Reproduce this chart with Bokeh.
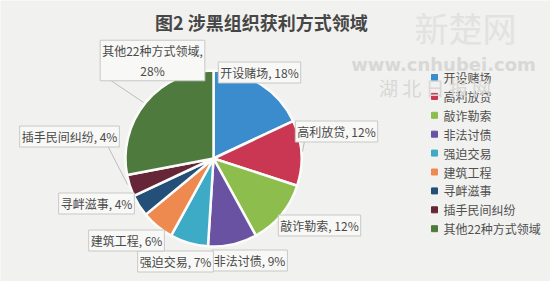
import numpy as np
from bokeh.plotting import figure
from bokeh.models import ColumnDataSource
from bokeh.core.properties import value
from bokeh.embed import file_html
from bokeh.resources import INLINE

# ---- data ----
categories = ["开设赌场", "高利放贷", "敲诈勒索", "非法讨债", "强迫交易",
              "建筑工程", "寻衅滋事", "插手民间纠纷", "其他22种方式领域"]
shares = [18, 12, 12, 9, 7, 6, 4, 4, 28]
colors = ["#3b8ccc", "#c93752", "#8dbd4c", "#6a52a3", "#3eabc6",
          "#ee8a50", "#244f78", "#672637", "#4f7a3e"]
title_text = "图2  涉黑组织获利方式领域"

# ---- layout (screen px, y measured from top) ----
W, H = 550, 281
cx, cy, R = 213, 158, 88
lbl_x = [259, 336, 319, 249, 175, 126, 96, 69, 152]
lbl_y = [72, 131, 225, 260, 261, 240, 203, 136, 60]
leg_x_sq, leg_x_txt, leg_y0, leg_dy = 434, 443, 77, 18.9

FONT = value("Noto Sans CJK SC")

p = figure(width=W, height=H, x_range=(0, W), y_range=(0, H),
           output_backend="svg", toolbar_location=None, min_border=0)
p.axis.visible = False
p.grid.visible = False
p.outline_line_color = None
p.background_fill_color = "#f1f1ef"
p.border_fill_color = "#f1f1ef"

def Y(v):
    return H - np.asarray(v, dtype=float)

# pie wedges
frac = np.array(shares, dtype=float) / sum(shares)
cum = np.concatenate([[0], np.cumsum(frac)])
start = np.pi / 2 - cum[:-1] * 2 * np.pi
end = np.pi / 2 - cum[1:] * 2 * np.pi
pie_src = ColumnDataSource(dict(start=start, end=end, color=colors))
p.wedge(x=cx, y=H - cy, radius=R, start_angle="start", end_angle="end",
        direction="clock", fill_color="color", line_color="#fbfbfa",
        line_width=2.5, source=pie_src)

# leader lines
p.segment(x0=[100, 107, 304], y0=Y([73, 145, 141]), x1=[143, 127, 302], y1=Y([102, 184, 151]),
          line_color="#bdbdbd", line_width=1)

# data labels
texts = [f"{c}, {v}%" for c, v in zip(categories, shares)]
texts[-1] = f"{categories[-1]},\n{shares[-1]}%"
lab_src = ColumnDataSource(dict(x=lbl_x, y=Y(lbl_y), t=texts))
p.text(x="x", y="y", text="t", source=lab_src, text_font=FONT,
       text_font_size="12px", text_color="#4a4a4a", text_align="center",
       text_baseline="middle", background_fill_color="#f8f8f6",
       border_line_color="#c8c8c8", padding=2, text_line_height=1.15)

# legend
leg_y = [leg_y0 + i * leg_dy for i in range(len(categories))]
p.scatter(x=[leg_x_sq] * len(categories), y=Y(leg_y), marker="square",
          size=6, color=colors)
p.text(x=[leg_x_txt] * len(categories), y=Y(leg_y), text=categories,
       text_font=FONT, text_font_size="12px", text_color="#505050",
       text_baseline="middle")

# title
p.text(x=[263], y=Y([21]), text=[title_text], text_font=FONT,
       text_font_size="18px", text_font_style="bold", text_color="#464646",
       text_align="center", text_baseline="middle")

# watermark
p.text(x=[465], y=Y([27]), text=["新楚网"], text_font=FONT,
       text_font_size="34px", text_color="#e2e2e0", text_align="center",
       text_baseline="middle")
p.text(x=[443], y=Y([64]), text=["www.cnhubei.com"], text_font=value("DejaVu Sans"),
       text_font_size="18px", text_font_style="bold", text_color="#d8d8d6",
       text_align="center", text_baseline="middle")
p.text(x=[443], y=Y([87]), text=["湖  北  日  报  网"], text_font=FONT,
       text_font_size="19px", text_color="#d8d8d6", text_align="center",
       text_baseline="middle")

open("out.html", "w").write(file_html(p, INLINE))
